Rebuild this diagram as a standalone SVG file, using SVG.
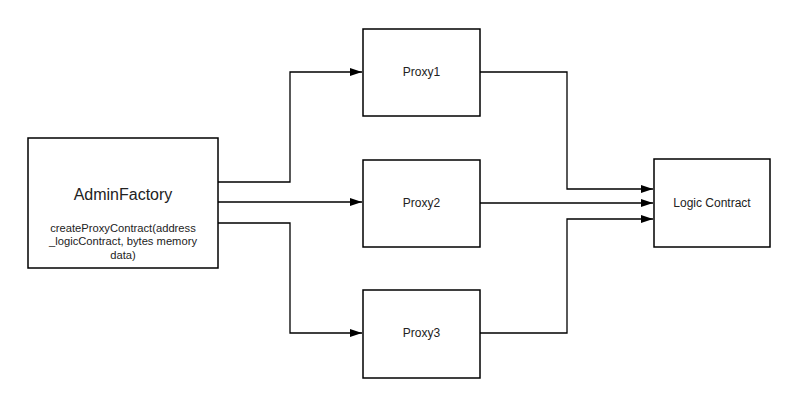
<svg xmlns="http://www.w3.org/2000/svg" width="800" height="407" viewBox="0 0 800 407">
  <style>
    .box { fill: #ffffff; stroke: #000000; stroke-width: 1.5; }
    .edge { fill: none; stroke: #000000; stroke-width: 1.3; }
    text { font-family: "Liberation Sans", Arial, sans-serif; fill: #222222; text-anchor: middle; }
    .title { font-size: 16px; }
    .small { font-size: 11.2px; }
    .label { font-size: 12px; }
  </style>
  <defs>
    <marker id="arrow" viewBox="0 0 12 10" refX="12" refY="5" markerWidth="12" markerHeight="10" markerUnits="userSpaceOnUse" orient="auto">
      <path d="M0,1 L12,5 L0,9 Z" fill="#000000"/>
    </marker>
  </defs>
  <rect width="800" height="407" fill="#ffffff"/>

  <g id="connectors">
    <path class="edge" d="M218,182 H290 V72 H362" marker-end="url(#arrow)"/>
    <path class="edge" d="M218,202 H362" marker-end="url(#arrow)"/>
    <path class="edge" d="M218,223 H290 V333 H362" marker-end="url(#arrow)"/>
    <path class="edge" d="M480,72 H567 V189 H653" marker-end="url(#arrow)"/>
    <path class="edge" d="M480,203 H653" marker-end="url(#arrow)"/>
    <path class="edge" d="M480,333 H567 V219 H653" marker-end="url(#arrow)"/>
  </g>

  <g id="admin-factory">
    <rect class="box" x="28" y="138" width="190" height="130"/>
    <text class="title" x="123" y="200">AdminFactory</text>
    <text class="small" x="123" y="232">createProxyContract(address</text>
    <text class="small" x="123" y="245">_logicContract, bytes memory</text>
    <text class="small" x="123" y="259">data)</text>
  </g>

  <g id="proxy1">
    <rect class="box" x="363" y="29" width="117" height="87"/>
    <text class="label" x="421.5" y="76">Proxy1</text>
  </g>

  <g id="proxy2">
    <rect class="box" x="363" y="160" width="117" height="87"/>
    <text class="label" x="421.5" y="207">Proxy2</text>
  </g>

  <g id="proxy3">
    <rect class="box" x="363" y="290" width="117" height="88"/>
    <text class="label" x="421.5" y="337">Proxy3</text>
  </g>

  <g id="logic-contract">
    <rect class="box" x="654" y="159" width="116" height="88"/>
    <text class="label" x="712" y="207">Logic Contract</text>
  </g>
</svg>
